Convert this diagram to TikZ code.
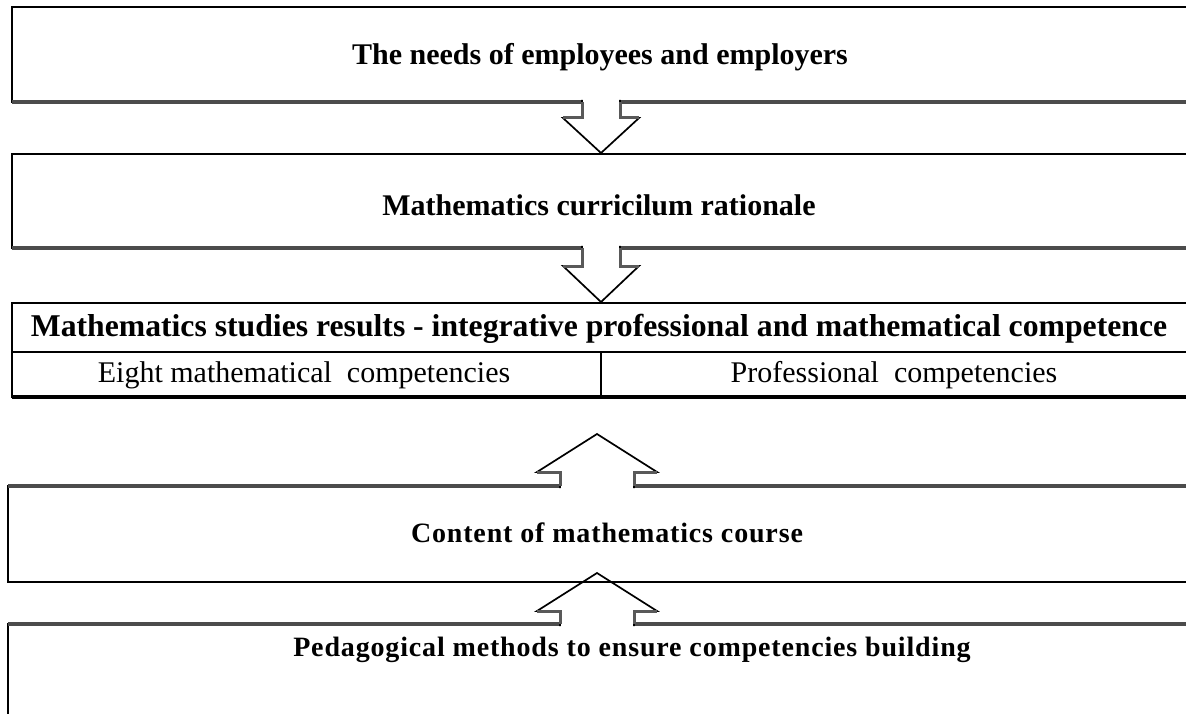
\documentclass[tikz,border=0pt]{standalone}
\usepackage{fontspec}
\setmainfont{Liberation Serif}
\newfontfamily\spacedfont[LetterSpace=3]{Liberation Serif}
\usetikzlibrary{calc}
\begin{document}
\begin{tikzpicture}[x=1pt,y=-1pt,
  box/.style={rectangle, inner sep=0pt, outer sep=0pt, draw=black, line width=2pt},
  txt/.style={inner sep=0pt, anchor=center},
  titlebig/.style={txt, font=\fontsize{30}{36}\selectfont\bfseries},
  titlehead/.style={txt, font=\fontsize{31.7}{38}\selectfont\bfseries},
  titlesp/.style={txt, font=\fontsize{28}{33}\spacedfont\bfseries},
  cell/.style={txt, font=\fontsize{30}{36}\selectfont},
  graybar/.style={draw=black!70, line width=3.2pt},
  blk/.style={draw=black, line width=1.7pt, fill=white, line join=miter},
  shaft/.style={draw=black!65, line width=3pt, line join=miter}]
\useasboundingbox (0,0) rectangle (1186,714);
\clip (0,0) rectangle (1186,714);
% boxes
\node[box, minimum width=1176pt, minimum height=95pt] (b1) at (600,54.5) {};
\node[box, minimum width=1176pt, minimum height=94pt] (b2) at (600,201) {};
\node[box, minimum width=1176pt, minimum height=94pt] (b3) at (600,350) {};
\node[box, minimum width=1180pt, minimum height=96pt] (b4) at (598,534) {};
\node[box, minimum width=1180pt, minimum height=136pt] (b5) at (598,692) {};
\draw[graybar] (b1.south west) -- (b1.south east);
\draw[graybar] (b2.south west) -- (b2.south east);
\draw[graybar] (b4.north west) -- (b4.north east);
\draw[graybar] (b5.north west) -- (b5.north east);
\draw[draw=black, line width=3.4pt] (b3.south west) -- (b3.south east);
% table lines in box 3
\coordinate (hl) at (b3.west |- 0,352);
\coordinate (hr) at (b3.east |- 0,352);
\draw[line width=1.8pt] (hl) -- (hr);
\coordinate (dv) at (601,352);
\draw[line width=1.6pt] (dv) -- (dv |- b3.south);
% texts
\node[titlebig] (t1) at (600,57) {The needs of employees and employers};
\node[titlebig] (t2) at (599,205) {Mathematics curricilum rationale};
\node[titlehead] (t3) at (599,329) {Mathematics studies results - integrative professional and mathematical competence};
\node[cell] (c1) at (304,375) {Eight mathematical\ \ competencies};
\node[cell] (c2) at (894,375) {Professional\ \ competencies};
\node[titlesp] (t4) at (607,533) {Content of mathematics course};
\node[titlesp] (t5) at (632,650) {Pedagogical methods to ensure competencies building};
% down arrows
\coordinate (a1) at ($(b1.south)+(1,0)$);
\draw[blk] ($(a1)+(-19,-2)$) -- ++(0,18) -- ++(-19,0) -- ($(b2.north)+(1,-1)$) -- ($(a1)+(38,16)$) -- ++(-19,0) -- ++(0,-18);
\draw[shaft] ($(a1)+(-19,0)$) -- ++(0,16) -- ++(-19,0);
\draw[shaft] ($(a1)+(19,0)$) -- ++(0,16) -- ++(19,0);
\coordinate (a2) at ($(b2.south)+(1,0)$);
\draw[blk] ($(a2)+(-19,-2)$) -- ++(0,20) -- ++(-19,0) -- ($(b3.north)+(1,-1)$) -- ($(a2)+(38,18)$) -- ++(-19,0) -- ++(0,-20);
\draw[shaft] ($(a2)+(-19,0)$) -- ++(0,18) -- ++(-19,0);
\draw[shaft] ($(a2)+(19,0)$) -- ++(0,18) -- ++(19,0);
% up arrows
\coordinate (a3) at ($(b4.north)+(-1,0)$);
\draw[blk] ($(a3)+(-37,2)$) -- ++(0,-16) -- ++(-23,0) -- ($(b3.south)+(-3,37)$) -- ($(a3)+(60,-14)$) -- ++(-23,0) -- ++(0,16);
\draw[shaft] ($(a3)+(-37,0)$) -- ++(0,-14) -- ++(-23,0);
\draw[shaft] ($(a3)+(37,0)$) -- ++(0,-14) -- ++(23,0);
\coordinate (a4) at ($(b5.north)+(-1,0)$);
\draw[blk] ($(a4)+(-37,2)$) -- ++(0,-15) -- ++(-23,0) -- ($(b4.south)+(-1,-9)$) -- ($(a4)+(60,-13)$) -- ++(-23,0) -- ++(0,15);
\draw[shaft] ($(a4)+(-37,0)$) -- ++(0,-13) -- ++(-23,0);
\draw[shaft] ($(a4)+(37,0)$) -- ++(0,-13) -- ++(23,0);
\draw[line width=1.4pt] (b4.south west) -- (b4.south east);
\end{tikzpicture}
\end{document}
